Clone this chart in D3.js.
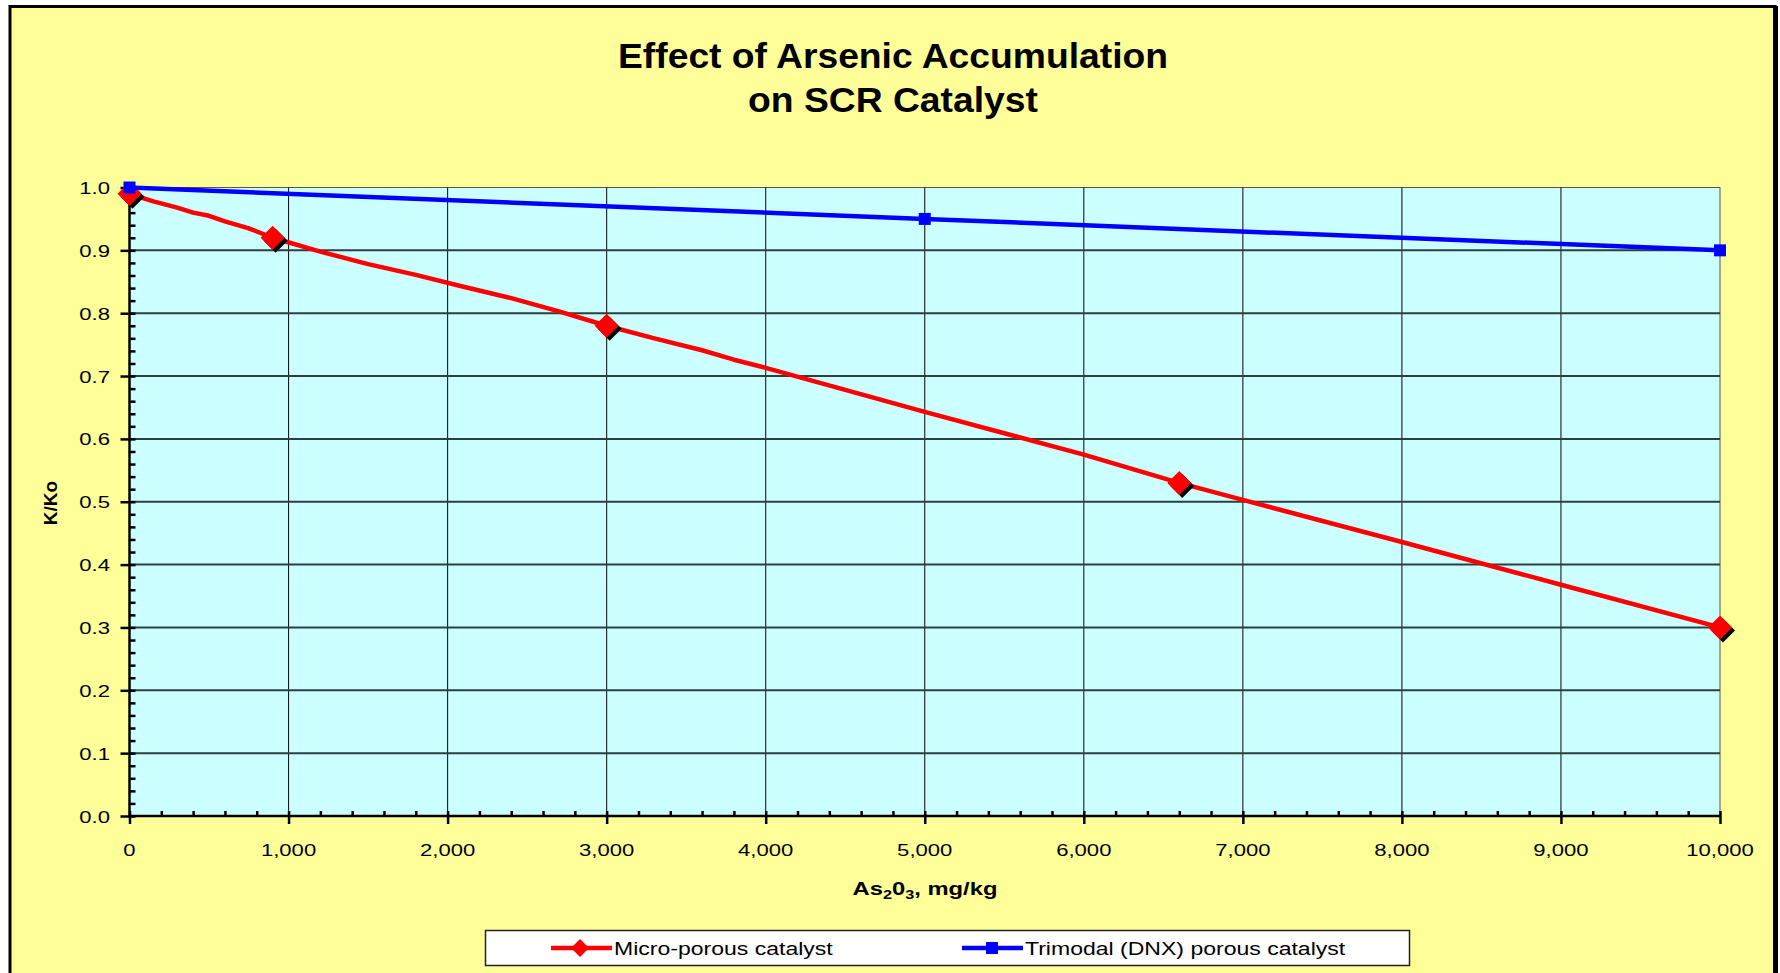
<!DOCTYPE html>
<html>
<head>
<meta charset="utf-8">
<script src="https://cdn.jsdelivr.net/npm/d3@7"></script>
<style>
  html, body { margin: 0; padding: 0; background: #ffffff; }
  svg { display: block; font-family: Arial, "Liberation Sans", sans-serif; }
</style>
</head>
<body>
<svg id="chart" width="1780" height="973"></svg>
<script>
// data
var microLineX = [0, 150, 300, 400, 500, 600, 750, 900, 1200, 1500, 1800, 2100, 2400, 2700, 3000,
  3300, 3600, 3800, 4000, 4500, 5000, 5500, 6000, 6600, 7000, 8000, 9000, 10000];
var microLineY = [0.99, 0.978, 0.968, 0.96, 0.955, 0.946, 0.935, 0.92, 0.898, 0.878, 0.861, 0.842, 0.824, 0.803, 0.78,
  0.76, 0.741, 0.726, 0.713, 0.678, 0.643, 0.609, 0.575, 0.53, 0.503, 0.436, 0.368, 0.30];
var microPtsX = [0, 900, 3000, 6600, 10000];
var microPtsY = [0.99, 0.92, 0.78, 0.53, 0.30];
var triPtsX = [0, 5000, 10000];
var triPtsY = [1.0, 0.95, 0.90];

var xTicks = [0, 1000, 2000, 3000, 4000, 5000, 6000, 7000, 8000, 9000, 10000];
var yTicks = [0, 0.1, 0.2, 0.3, 0.4, 0.5, 0.6, 0.7, 0.8, 0.9, 1.0];
var seriesNames = ["Micro-porous catalyst", "Trimodal (DNX) porous catalyst"];

var dimensions = {
  width: 1780,
  height: 973,
  plot: { left: 129.5, right: 1720, top: 187.5, bottom: 816 },
};

var svg = d3.select("#chart");

// chart area frame
svg.append("rect")
  .attr("x", 10).attr("y", 6.5)
  .attr("width", 1765).attr("height", 1000)
  .attr("fill", "#FFFF99")
  .attr("stroke", "#000").attr("stroke-width", 3);
svg.append("rect")
  .attr("x", 1773).attr("y", 6)
  .attr("width", 5).attr("height", 1000)
  .attr("fill", "#000");

var xScale = d3.scaleLinear()
  .domain([0, 10000])
  .range([dimensions.plot.left, dimensions.plot.right]);
var yScale = d3.scaleLinear()
  .domain([0, 1])
  .range([dimensions.plot.bottom, dimensions.plot.top]);

// plot background
svg.append("rect")
  .attr("x", xScale(0)).attr("y", yScale(1))
  .attr("width", xScale(10000) - xScale(0))
  .attr("height", yScale(0) - yScale(1))
  .attr("fill", "#CCFFFF")
  .attr("stroke", "#555").attr("stroke-width", 1);

// gridlines
svg.append("g").selectAll("line")
  .data(xTicks.slice(1, -1)).enter().append("line")
  .attr("x1", function (d) { return xScale(d); })
  .attr("x2", function (d) { return xScale(d); })
  .attr("y1", yScale(0)).attr("y2", yScale(1))
  .attr("stroke", "#1a1a1a").attr("stroke-width", 1.1);
svg.append("g").selectAll("line")
  .data(yTicks.slice(1, -1)).enter().append("line")
  .attr("x1", xScale(0)).attr("x2", xScale(10000))
  .attr("y1", function (d) { return yScale(d); })
  .attr("y2", function (d) { return yScale(d); })
  .attr("stroke", "#2b3f3f").attr("stroke-width", 2);

// minor ticks (inside) and major ticks (crossing)
var yAxisMinor = d3.axisRight(yScale).tickValues(d3.range(0, 1.001, 0.02)).tickSize(6).tickFormat("");
var yAxisMajor = d3.axisLeft(yScale).tickValues(yTicks).tickSize(9).tickFormat("");
var xAxisMinor = d3.axisTop(xScale).tickValues(d3.range(0, 10001, 200)).tickSize(5).tickFormat("");
var xAxisMajor = d3.axisBottom(xScale).tickValues(xTicks).tickSize(8).tickFormat("");

[[yAxisMinor, "translate(" + xScale(0) + ",0)"],
 [yAxisMajor, "translate(" + xScale(0) + ",0)"],
 [xAxisMinor, "translate(0," + yScale(0) + ")"],
 [xAxisMajor, "translate(0," + yScale(0) + ")"]].forEach(function (a) {
  var g = svg.append("g").attr("transform", a[1]).call(a[0]);
  g.select(".domain").remove();
  g.selectAll("line").attr("stroke", "#000").attr("stroke-width", 2.5);
});

svg.append("line")
  .attr("x1", xScale(0)).attr("x2", xScale(0))
  .attr("y1", yScale(1)).attr("y2", yScale(0) + 1.5)
  .attr("stroke", "#000").attr("stroke-width", 2.5);
svg.append("line")
  .attr("x1", xScale(0) - 1).attr("x2", xScale(10000) + 1)
  .attr("y1", yScale(0)).attr("y2", yScale(0))
  .attr("stroke", "#000").attr("stroke-width", 2.5);

// text drawn with a horizontal stretch like the original
function stretched(x, y, sx, size, anchor, weight, str) {
  return svg.append("text")
    .attr("transform", "translate(" + x + "," + y + ") scale(" + sx + ",1)")
    .attr("text-anchor", anchor)
    .attr("font-size", size)
    .attr("font-weight", weight)
    .attr("fill", "#000")
    .text(str);
}

yTicks.forEach(function (d) {
  stretched(110, yScale(d) + 6.5, 1.3, 17, "end", "normal", d3.format(".1f")(d));
});
xTicks.forEach(function (d) {
  stretched(xScale(d), 856, 1.3, 17, "middle", "normal", d3.format(",")(d));
});

// titles
stretched(893, 68, 1.065, 35, "middle", "bold", "Effect of Arsenic Accumulation");
stretched(893, 112, 1.065, 35, "middle", "bold", "on SCR Catalyst");

var xTitle = stretched(925, 895, 1.25, 19, "middle", "bold", null);
xTitle.append("tspan").text("As");
xTitle.append("tspan").attr("font-size", 13).attr("dy", 4).text("2");
xTitle.append("tspan").attr("dy", -4).text("0");
xTitle.append("tspan").attr("font-size", 13).attr("dy", 4).text("3");
xTitle.append("tspan").attr("dy", -4).text(", mg/kg");

svg.append("text")
  .attr("transform", "translate(57,503) rotate(-90)")
  .attr("text-anchor", "middle")
  .attr("font-size", 19)
  .attr("font-weight", "bold")
  .text("K/Ko");

// series
var line = d3.line()
  .x(function (d) { return xScale(d[0]); })
  .y(function (d) { return yScale(d[1]); });

var microLine = microLineX.map(function (x, i) { return [x, microLineY[i]]; });
var microPts = microPtsX.map(function (x, i) { return [x, microPtsY[i]]; });
var triPts = triPtsX.map(function (x, i) { return [x, triPtsY[i]]; });

svg.append("path")
  .datum(microLine)
  .attr("d", line)
  .attr("fill", "none")
  .attr("stroke", "#FF0000")
  .attr("stroke-width", 4.5)
  .attr("stroke-linejoin", "round");

function diamond(r) {
  return "M0," + (-r) + "L" + r + ",0L0," + r + "L" + (-r) + ",0Z";
}

var marks = svg.append("g");
marks.selectAll(".shadow").data(microPts).enter().append("path")
  .attr("d", diamond(12))
  .attr("transform", function (d) { return "translate(" + (xScale(d[0]) + 3) + "," + (yScale(d[1]) + 3) + ")"; })
  .attr("fill", "#000");
marks.selectAll(".dia").data(microPts).enter().append("path")
  .attr("d", diamond(12))
  .attr("transform", function (d) { return "translate(" + xScale(d[0]) + "," + yScale(d[1]) + ")"; })
  .attr("fill", "#FF0000");

svg.append("path")
  .datum(triPts)
  .attr("d", line)
  .attr("fill", "none")
  .attr("stroke", "#0000FF")
  .attr("stroke-width", 4.5);

svg.append("g").selectAll("rect").data(triPts).enter().append("rect")
  .attr("x", function (d) { return xScale(d[0]) - 6; })
  .attr("y", function (d) { return yScale(d[1]) - 6; })
  .attr("width", 12).attr("height", 12)
  .attr("fill", "#0000FF");

// legend
svg.append("rect")
  .attr("x", 485.5).attr("y", 930.5)
  .attr("width", 924).attr("height", 35)
  .attr("fill", "#fff")
  .attr("stroke", "#222").attr("stroke-width", 1.5);

var legendItems = [
  { name: seriesNames[0], color: "#FF0000", x: 551, shape: "diamond" },
  { name: seriesNames[1], color: "#0000FF", x: 962, shape: "square" },
];
legendItems.forEach(function (item) {
  svg.append("line")
    .attr("x1", item.x).attr("x2", item.x + 61)
    .attr("y1", 948).attr("y2", 948)
    .attr("stroke", item.color).attr("stroke-width", 4.5);
  if (item.shape === "diamond") {
    svg.append("path")
      .attr("d", diamond(9))
      .attr("transform", "translate(" + (item.x + 29) + ",948)")
      .attr("fill", item.color);
  } else {
    svg.append("rect")
      .attr("x", item.x + 24).attr("y", 942)
      .attr("width", 12).attr("height", 12)
      .attr("fill", item.color);
  }
  stretched(item.x + 63, 955, 1.245, 18.5, "start", "normal", item.name);
});
</script>
</body>
</html>
